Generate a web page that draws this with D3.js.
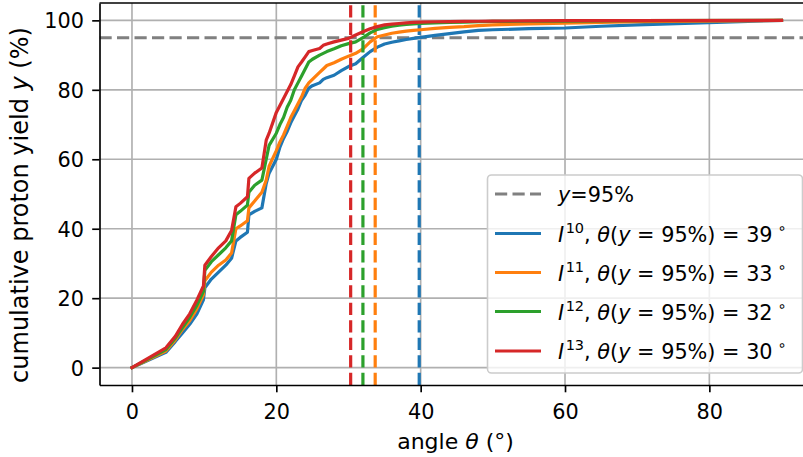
<!DOCTYPE html>
<html>
<head>
<meta charset="utf-8">
<script src="https://cdn.jsdelivr.net/npm/d3@7"></script>
<style>
  body { margin: 0; background: #fff; }
  svg { display: block; font-family: "DejaVu Sans", sans-serif; }
</style>
</head>
<body>
<svg id="chart" width="803" height="457"></svg>
<script>
// Emission angle (degrees) at which the cumulative yield is sampled
const angles = [0, 4.7, 6, 7, 8, 9, 9.9, 10.1, 11, 12, 13, 13.8, 14.4, 15, 16, 16.2, 17, 18, 18.6, 19,
  20, 20.5, 21, 21.5, 22, 22.5, 23, 23.5, 24, 24.5, 25, 26, 26.5, 27, 28, 29, 30, 31, 32, 33,
  34, 35, 36, 37, 38, 39, 40, 42, 44, 46, 48, 50, 55, 60, 65, 70, 90];

// Cumulative proton yield (%) for each laser intensity
const yieldI10 = [0, 4.4, 7.5, 10, 12.5, 15.5, 19.5, 23, 25.5, 27.5, 29.5, 31.5, 36.5, 37.5, 39, 44, 45, 46, 53, 56,
  60, 63.5, 66, 68, 70.5, 72.5, 74.5, 77, 78.5, 80.5, 81.2, 82, 83, 83.5, 84.2, 85.5, 86.7, 87.5, 89.3, 91,
  92.3, 93.2, 93.7, 94.1, 94.5, 94.8, 95.1, 95.7, 96.2, 96.7, 97.1, 97.3, 97.6, 97.8, 98.3, 98.7, 100];
const yieldI11 = [0, 4.8, 8, 11, 13.5, 17, 21, 25, 27.5, 29.5, 31, 33, 40, 40.8, 42.3, 46, 48, 50.5, 54, 58,
  62.5, 65, 67, 69.5, 72, 74, 76, 78, 80.5, 82, 83, 85, 86, 87, 87.8, 88.8, 89.7, 90.5, 91.8, 93.8,
  95.3, 95.8, 96.3, 96.6, 96.9, 97.1, 97.3, 97.7, 98, 98.2, 98.5, 98.7, 99, 99.2, 99.4, 99.6, 100];
const yieldI12 = [0, 5.2, 8.5, 11.5, 14.5, 18, 22, 28, 30.5, 32.5, 34.5, 36.5, 44, 45, 46.8, 50.5, 52.5, 54, 60, 64,
  67.5, 70, 72, 75, 77, 80, 82, 84, 86, 88, 88.8, 90, 90.5, 91, 91.8, 92.7, 93.3, 93.8, 95, 96.4,
  97.4, 97.9, 98.3, 98.6, 98.8, 99, 99.1, 99.3, 99.4, 99.5, 99.6, 99.7, 99.75, 99.8, 99.85, 99.9, 100];
const yieldI13 = [0, 5.7, 9, 12.5, 15.5, 19.5, 23.5, 29.5, 32, 34.5, 36.5, 39.5, 46.3, 47.3, 49.2, 54.5, 56, 57.5, 65.5, 67.5,
  73.5, 75.5, 77.5, 79.5, 81.5, 84, 86.6, 88, 89.5, 91, 91.3, 91.9, 92.8, 93.2, 93.8, 94.3, 94.8, 95.8, 96.7, 97.6,
  98.2, 98.7, 98.9, 99.1, 99.3, 99.4, 99.5, 99.6, 99.65, 99.7, 99.75, 99.8, 99.85, 99.9, 99.92, 99.95, 100];

const exponents = ["10", "11", "12", "13"];
// Angle at which each curve reaches the threshold yield
const theta95 = [39.8, 33.7, 32.0, 30.3];
const threshold = 95;
const colors = ["#1f77b4", "#ff7f0e", "#2ca02c", "#d62728"];
const xTicks = [0, 20, 40, 60, 80];
const yTicks = [0, 20, 40, 60, 80, 100];

const seriesYields = [yieldI10, yieldI11, yieldI12, yieldI13];
const series = seriesYields.map((ys, i) => ({
  exp: exponents[i],
  color: colors[i],
  theta: theta95[i],
  points: angles.map((a, j) => [a, ys[j]])
}));

const FS = 20.8;        // tick / legend font size (px)
const LW = 3.2;         // data line width
const THIN = 1.67;      // spines, ticks, grid
const DASH = "12.2,5.3";

const svg = d3.select("#chart");
const box = { left: 99.5, right: 814, top: 3, bottom: 385 };

const x = d3.scaleLinear().domain([-4.5, 94.5]).range([box.left, box.right]);
const y = d3.scaleLinear().domain([-5, 105]).range([box.bottom, box.top]);

svg.append("defs").append("clipPath").attr("id", "plot-clip")
  .append("rect")
  .attr("x", box.left).attr("y", box.top)
  .attr("width", box.right - box.left).attr("height", box.bottom - box.top);

// Grid
const grid = svg.append("g").attr("stroke", "#b0b0b0").attr("stroke-width", THIN);
grid.selectAll("line.gx").data(xTicks).join("line")
  .attr("x1", d => x(d)).attr("x2", d => x(d))
  .attr("y1", box.top).attr("y2", box.bottom);
grid.selectAll("line.gy").data(yTicks).join("line")
  .attr("x1", box.left).attr("x2", box.right)
  .attr("y1", d => y(d)).attr("y2", d => y(d));

const plot = svg.append("g").attr("clip-path", "url(#plot-clip)");

// Threshold line
plot.append("line")
  .attr("x1", box.left).attr("x2", box.right)
  .attr("y1", y(threshold)).attr("y2", y(threshold))
  .attr("stroke", "#808080").attr("stroke-width", LW)
  .attr("stroke-dasharray", DASH);

const line = d3.line().x(d => x(d[0])).y(d => y(d[1]));

series.forEach(s => {
  plot.append("path")
    .attr("d", line(s.points))
    .attr("fill", "none")
    .attr("stroke", s.color)
    .attr("stroke-width", LW)
    .attr("stroke-linejoin", "round")
    .attr("stroke-linecap", "square");
  plot.append("line")
    .attr("x1", x(s.theta)).attr("x2", x(s.theta))
    .attr("y1", box.bottom).attr("y2", box.top)
    .attr("stroke", s.color).attr("stroke-width", LW)
    .attr("stroke-dasharray", DASH);
});

// Axes
const xAxis = d3.axisBottom(x).tickValues(xTicks).tickFormat(d3.format("d"))
  .tickSize(7.3).tickSizeOuter(0).tickPadding(11.9);
const yAxis = d3.axisLeft(y).tickValues(yTicks).tickFormat(d3.format("d"))
  .tickSize(7.3).tickSizeOuter(0).tickPadding(8.2);

const gx = svg.append("g").attr("transform", `translate(0,${box.bottom})`).call(xAxis);
const gy = svg.append("g").attr("transform", `translate(${box.left},0)`).call(yAxis);
[gx, gy].forEach(g => {
  g.selectAll("path.domain").attr("stroke", "#000").attr("stroke-width", THIN);
  g.selectAll(".tick line").attr("stroke", "#000").attr("stroke-width", THIN);
  g.selectAll(".tick text").attr("fill", "#000")
    .style("font-family", "DejaVu Sans").style("font-size", FS + "px");
});
gy.selectAll(".tick text").attr("dy", "0.36em");

// Top spine
svg.append("line")
  .attr("x1", box.left).attr("x2", box.right)
  .attr("y1", box.top).attr("y2", box.top)
  .attr("stroke", "#000").attr("stroke-width", THIN);

// Axis labels
const xl = svg.append("text")
  .attr("x", 455.5).attr("y", 448.5)
  .attr("text-anchor", "middle").style("font-size", "22px");
xl.append("tspan").text("angle ");
xl.append("tspan").attr("font-style", "italic").text("θ");
xl.append("tspan").text(" (°)");

const yl = svg.append("text")
  .attr("transform", "translate(28,205) rotate(-90)")
  .attr("text-anchor", "middle").style("font-size", "24px");
yl.append("tspan").text("cumulative proton yield ");
yl.append("tspan").attr("font-style", "italic").text("y");
yl.append("tspan").text(" (%)");

// Legend
const lg = svg.append("g");
const L = { x: 487.5, y: 175, w: 315, h: 198 };
lg.append("rect")
  .attr("x", L.x).attr("y", L.y).attr("width", L.w).attr("height", L.h)
  .attr("rx", 4).attr("ry", 4)
  .attr("fill", "#fff").attr("fill-opacity", 0.8)
  .attr("stroke", "#cccccc").attr("stroke-width", 1.6);

const rowY = [194, 233.5, 272.5, 311.5, 351];
const hx1 = 495, hx2 = 541, tx = 558;

lg.append("line")
  .attr("x1", hx1).attr("x2", hx2).attr("y1", rowY[0]).attr("y2", rowY[0])
  .attr("stroke", "#808080").attr("stroke-width", LW).attr("stroke-dasharray", DASH);
const t0 = lg.append("text").attr("x", tx).attr("y", rowY[0] + 8).style("font-size", FS + "px");
t0.append("tspan").attr("font-style", "italic").text("y");
t0.append("tspan").text("=" + threshold + "%");

const SUP = 14.5, RAISE = 9;
series.forEach((s, i) => {
  const cy = rowY[i + 1];
  lg.append("line")
    .attr("x1", hx1).attr("x2", hx2).attr("y1", cy).attr("y2", cy)
    .attr("stroke", s.color).attr("stroke-width", LW);
  const t = lg.append("text").attr("x", tx).attr("y", cy + 8.3).style("font-size", FS + "px");
  t.append("tspan").attr("font-style", "italic").text("I");
  t.append("tspan").attr("dx", 1.5).attr("dy", -RAISE).style("font-size", SUP + "px").text(s.exp);
  t.append("tspan").attr("dy", RAISE).text(", ");
  t.append("tspan").attr("font-style", "italic").text("θ");
  t.append("tspan").text("(");
  t.append("tspan").attr("font-style", "italic").text("y");
  t.append("tspan").text(" = " + threshold + "%) = " + Math.floor(s.theta));
  t.append("tspan").attr("dx", 5).attr("dy", -RAISE).style("font-size", SUP + "px").text("∘");
});
</script>
</body>
</html>
